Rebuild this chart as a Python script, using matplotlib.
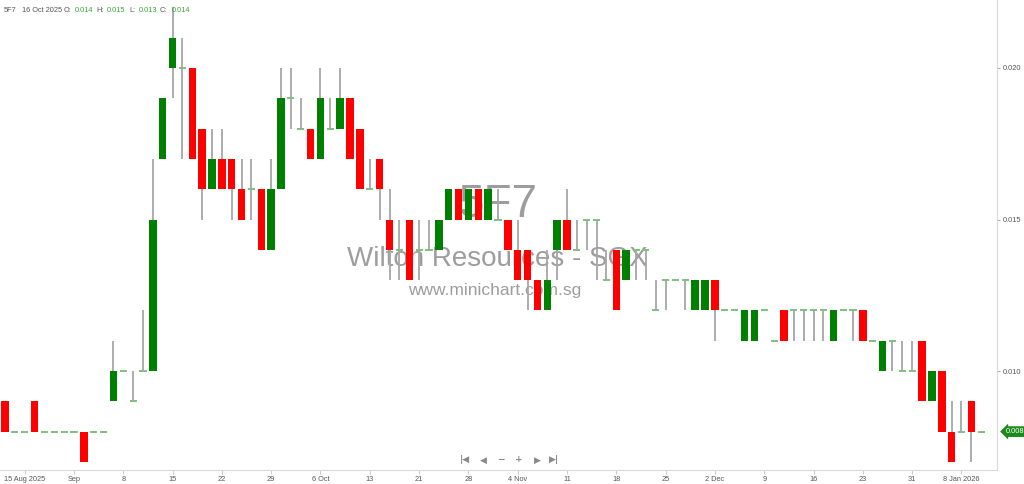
import numpy as np
import matplotlib.pyplot as plt
from matplotlib import transforms

# daily OHLC, 5F7 Wilton Resources
opens = [0.009, 0.008, 0.008, 0.009, 0.008, 0.008, 0.008, 0.008, 0.008, 0.008,
         0.008, 0.009, 0.010, 0.009, 0.010, 0.010, 0.017, 0.020, 0.020, 0.020,
         0.018, 0.016, 0.017, 0.017, 0.016, 0.016, 0.016, 0.014, 0.016, 0.019,
         0.018, 0.018, 0.017, 0.018, 0.018, 0.019, 0.018, 0.016, 0.017, 0.015,
         0.014, 0.015, 0.014, 0.014, 0.014, 0.015, 0.016, 0.015, 0.016, 0.015,
         0.015, 0.015, 0.014, 0.014, 0.013, 0.012, 0.014, 0.015, 0.014, 0.015,
         0.015, 0.013, 0.014, 0.013, 0.014, 0.014, 0.012, 0.013, 0.013, 0.013,
         0.012, 0.012, 0.013, 0.012, 0.012, 0.011, 0.011, 0.012, 0.011, 0.012,
         0.012, 0.012, 0.012, 0.012, 0.011, 0.012, 0.012, 0.012, 0.011, 0.010,
         0.011, 0.010, 0.010, 0.011, 0.009, 0.010, 0.008, 0.008, 0.009, 0.008]
highs = [0.009, 0.008, 0.008, 0.009, 0.008, 0.008, 0.008, 0.008, 0.008, 0.008,
         0.008, 0.011, 0.010, 0.010, 0.012, 0.017, 0.019, 0.022, 0.021, 0.020,
         0.018, 0.018, 0.018, 0.017, 0.017, 0.017, 0.016, 0.017, 0.020, 0.020,
         0.019, 0.018, 0.020, 0.019, 0.020, 0.019, 0.018, 0.017, 0.017, 0.016,
         0.015, 0.015, 0.015, 0.015, 0.015, 0.016, 0.016, 0.016, 0.016, 0.016,
         0.016, 0.015, 0.015, 0.014, 0.013, 0.014, 0.015, 0.016, 0.015, 0.015,
         0.015, 0.014, 0.014, 0.014, 0.014, 0.014, 0.013, 0.013, 0.013, 0.013,
         0.013, 0.013, 0.013, 0.012, 0.012, 0.012, 0.012, 0.012, 0.011, 0.012,
         0.012, 0.012, 0.012, 0.012, 0.012, 0.012, 0.012, 0.012, 0.011, 0.011,
         0.011, 0.011, 0.011, 0.011, 0.010, 0.010, 0.009, 0.009, 0.009, 0.008]
lows = [0.008, 0.008, 0.008, 0.008, 0.008, 0.008, 0.008, 0.008, 0.007, 0.008,
        0.008, 0.009, 0.010, 0.009, 0.010, 0.010, 0.017, 0.019, 0.017, 0.017,
        0.015, 0.016, 0.016, 0.015, 0.015, 0.015, 0.014, 0.014, 0.016, 0.018,
        0.018, 0.017, 0.017, 0.018, 0.018, 0.017, 0.016, 0.016, 0.015, 0.013,
        0.013, 0.013, 0.013, 0.014, 0.014, 0.015, 0.015, 0.015, 0.015, 0.015,
        0.015, 0.014, 0.013, 0.012, 0.012, 0.012, 0.013, 0.014, 0.014, 0.014,
        0.013, 0.013, 0.012, 0.013, 0.013, 0.013, 0.012, 0.012, 0.013, 0.012,
        0.012, 0.012, 0.011, 0.012, 0.012, 0.011, 0.011, 0.012, 0.011, 0.011,
        0.011, 0.011, 0.011, 0.011, 0.011, 0.012, 0.011, 0.011, 0.011, 0.010,
        0.010, 0.010, 0.010, 0.009, 0.009, 0.008, 0.007, 0.008, 0.007, 0.008]
closes = [0.008, 0.008, 0.008, 0.008, 0.008, 0.008, 0.008, 0.008, 0.007, 0.008,
          0.008, 0.010, 0.010, 0.009, 0.010, 0.015, 0.019, 0.021, 0.020, 0.017,
          0.016, 0.017, 0.016, 0.016, 0.015, 0.016, 0.014, 0.016, 0.019, 0.019,
          0.018, 0.017, 0.019, 0.018, 0.019, 0.017, 0.016, 0.016, 0.016, 0.014,
          0.014, 0.013, 0.014, 0.014, 0.015, 0.016, 0.015, 0.016, 0.015, 0.016,
          0.015, 0.014, 0.013, 0.013, 0.012, 0.013, 0.015, 0.014, 0.014, 0.015,
          0.015, 0.013, 0.012, 0.014, 0.014, 0.014, 0.012, 0.013, 0.013, 0.013,
          0.013, 0.013, 0.012, 0.012, 0.012, 0.012, 0.012, 0.012, 0.011, 0.011,
          0.012, 0.012, 0.012, 0.012, 0.012, 0.012, 0.012, 0.011, 0.011, 0.011,
          0.011, 0.010, 0.010, 0.009, 0.010, 0.008, 0.007, 0.008, 0.008, 0.008]

tick_pos = [2, 7, 12, 17, 22, 27, 32, 37, 42, 47, 52, 57, 62, 67, 72, 77, 82, 87, 92, 97]
tick_labels = ['15 Aug 2025', 'Sep', '8', '15', '22', '29', '6 Oct', '13', '21', '28',
               '4 Nov', '11', '18', '25', '2 Dec', '9', '16', '23', '31', '8 Jan 2026']
price_ticks = [0.010, 0.015, 0.020]
last_price = 0.008

UP = '#008000'
DOWN = '#ff0000'
WICK = '#a6a6a6'
FLAT = '#80c080'
FONT = 'Liberation Sans'

W, H = 1024, 484
fig = plt.figure(figsize=(W / 100, H / 100), dpi=100)
ax = fig.add_axes([0.0, 14 / H, 997 / W, 470 / H])

x = np.arange(len(opens))
o = np.array(opens); h = np.array(highs); l = np.array(lows); c = np.array(closes)

# watermarks (behind the candles)
wm = dict(transform=fig.transFigure, color='#9d9d9d', ha='center', va='center',
          family=FONT, zorder=0)
ax.text(498 / W, 1 - 205 / H, '5F7', fontsize=33, **wm)
ax.text(497 / W, 1 - 259 / H, 'Wilton Resources - SGX', fontsize=20, **wm)
ax.text(495 / W, 1 - 290 / H, 'www.minichart.com.sg', fontsize=12.5, **wm)

# wicks
has_wick = h > l
ax.vlines(x[has_wick], l[has_wick], h[has_wick], color=WICK, lw=1.3, zorder=1)

# bodies
up = c > o
dn = c < o
ax.bar(x[up], c[up] - o[up], bottom=o[up], width=0.76, color=UP, zorder=2)
ax.bar(x[dn], o[dn] - c[dn], bottom=c[dn], width=0.76, color=DOWN, zorder=2)

# unchanged days drawn as a short dash
fl = c == o
ax.hlines(c[fl], x[fl] - 0.36, x[fl] + 0.36, color=FLAT, lw=1.4, zorder=2)

ax.set_xlim(-0.5, 100.6)
ax.set_ylim(0.006733, 0.022244)

ax.set_xticks(tick_pos)
ax.set_xticklabels(tick_labels, fontsize=5.3, color='#555555', family=FONT)
ax.tick_params(axis='x', length=3, color='#cccccc', pad=1.5)
ax.yaxis.tick_right()
ax.set_yticks(price_ticks)
ax.set_yticklabels(['%.3f' % p for p in price_ticks], fontsize=5.3, color='#555555',
                   family=FONT)
ax.tick_params(axis='y', length=2.5, color='#aaaaaa', pad=1.5)

for s in ['top', 'left']:
    ax.spines[s].set_visible(False)
ax.spines['bottom'].set_color('#d9d9d9')
ax.spines['right'].set_color('#d9d9d9')

# header line
hy = 1 - 11 / H
items = [('5F7', '#555555', 4), ('16 Oct 2025', '#555555', 22), ('O:', '#555555', 64),
         ('0.014', '#3aa13a', 75), ('H:', '#555555', 96), ('0.015', '#3aa13a', 107),
         ('L:', '#555555', 129), ('0.013', '#3aa13a', 139), ('C:', '#555555', 160),
         ('0.014', '#3aa13a', 172)]
for txt, col, px in items:
    fig.text(px / W, hy, txt, fontsize=5.3, color=col, ha='left', va='center', family=FONT)

# last price tag
trans = transforms.blended_transform_factory(fig.transFigure, ax.transData)
ax.text(1006 / W, last_price, '%.3f' % last_price, transform=trans, fontsize=5.3,
        color='white', ha='left', va='center', clip_on=False, family=FONT,
        bbox=dict(boxstyle='larrow,pad=0.25', fc='#1a8a1a', ec='none'))

# navigation buttons
nav = [('|◀', 465), ('◀', 483), ('−', 501), ('+', 519), ('▶', 537), ('▶|', 554)]
for sym, px in nav:
    fig.text(px / W, 1 - 460 / H, sym, fontsize=6.5, color='#8a8a8a', ha='center',
             va='center', fontweight='bold')

fig.savefig('out.png', dpi=100)
